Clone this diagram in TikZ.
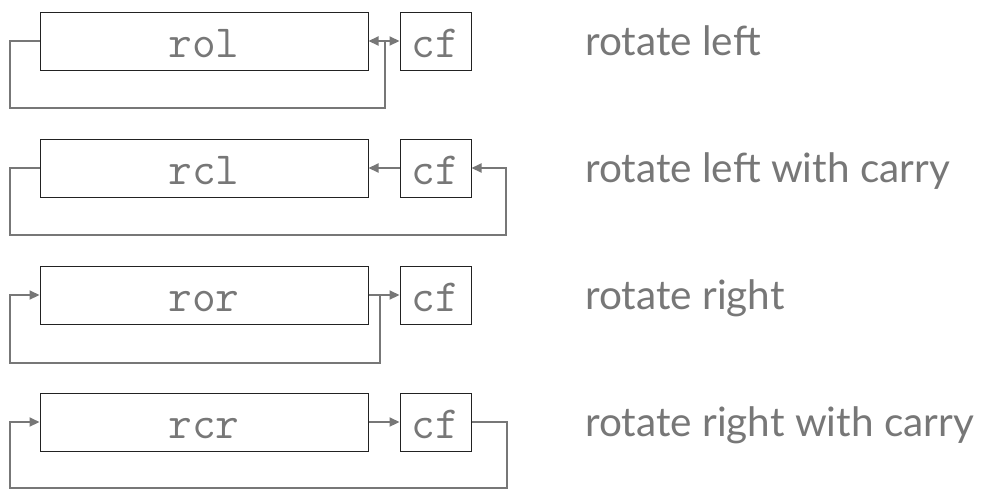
\documentclass[tikz,border=0pt]{standalone}
\usepackage{fontspec}
\newfontfamily\labelfont{Lato}
\usetikzlibrary{arrows.meta}
\definecolor{lg}{HTML}{777777}
\definecolor{bd}{HTML}{222222}
\begin{document}
\begin{tikzpicture}[x=1pt,y=-1pt,
 reg/.style={draw=bd, line width=1pt, minimum width=328pt, minimum height=58pt, inner sep=0pt},
 flag/.style={draw=bd, line width=1pt, minimum width=71pt, minimum height=58pt, inner sep=0pt},
 wire/.style={draw=lg, line width=2.2pt},
 tip/.style={-{Triangle[length=10pt,width=9pt]}},
 both/.style={{Triangle[length=10pt,width=9pt]}-{Triangle[length=10pt,width=9pt]}},
 codetxt/.style={text=lg, font=\ttfamily\fontsize{46}{46}\selectfont, anchor=base, inner sep=0pt},
 lbl/.style={text=lg, font=\labelfont\fontsize{40.5}{40.5}\selectfont, anchor=base west, inner sep=0pt}]
\useasboundingbox (0,0) rectangle (999,490);
% row 1
\node[reg] (r1) at (204,41) {};
\node[flag] (c1) at (435.5,41) {};
\node[codetxt] (t1) at (204,57) {rol};
\node[codetxt] (f1) at (435.5,57) {cf};
\node[lbl] (l1) at (585,55) {rotate left};
\coordinate (j1) at (385,41);
\coordinate (a1) at (10,108);
\draw[wire,both] (r1.east) -- (c1.west);
\draw[wire] (r1.west) -| (a1) -| (j1);
% row 2
\node[reg] (r2) at (204,168) {};
\node[flag] (c2) at (435.5,168) {};
\node[codetxt] (t2) at (204,184) {rcl};
\node[codetxt] (f2) at (435.5,184) {cf};
\node[lbl] (l2) at (585,182) {rotate left with carry};
\coordinate (a2) at (10,235);
\coordinate (b2) at (506,235);
\draw[wire,tip] (c2.west) -- (r2.east);
\draw[wire,tip] (r2.west) -| (a2) -- (b2) |- (c2.east);
% row 3
\node[reg] (r3) at (204,295) {};
\node[flag] (c3) at (435.5,295) {};
\node[codetxt] (t3) at (204,311) {ror};
\node[codetxt] (f3) at (435.5,311) {cf};
\node[lbl] (l3) at (585,309) {rotate right};
\coordinate (j3) at (380,295);
\coordinate (b3) at (10,363);
\draw[wire,tip] (r3.east) -- (c3.west);
\draw[wire,tip] (j3) |- (b3) |- (r3.west);
% row 4
\node[reg] (r4) at (204,422) {};
\node[flag] (c4) at (435.5,422) {};
\node[codetxt] (t4) at (204,438) {rcr};
\node[codetxt] (f4) at (435.5,438) {cf};
\node[lbl] (l4) at (585,436) {rotate right with carry};
\coordinate (a4) at (10,488);
\coordinate (b4) at (507,488);
\draw[wire,tip] (r4.east) -- (c4.west);
\draw[wire,tip] (c4.east) -| (b4) -- (a4) |- (r4.west);
\end{tikzpicture}
\end{document}
